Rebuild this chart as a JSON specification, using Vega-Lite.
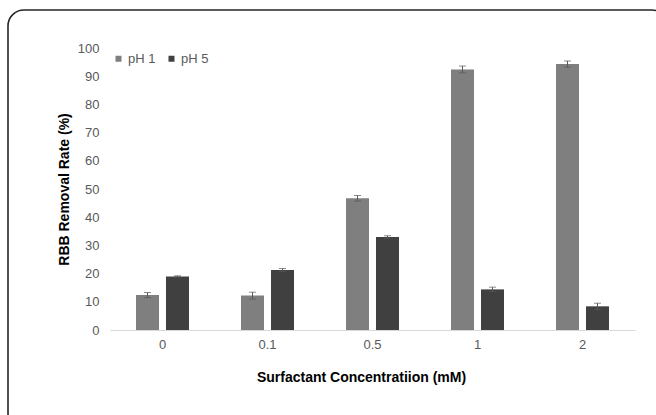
{
  "$schema": "https://vega.github.io/schema/vega-lite/v6.json",
  "autosize": "none",
  "padding": {"left": 8, "top": 10, "right": 0, "bottom": 0},
  "width": 660,
  "height": 420,
  "background": "white",
  "config": {
    "view": {"stroke": "#262626", "strokeWidth": 1.6, "cornerRadius": 16, "fill": "white"},
    "font": "Liberation Sans"
  },
  "data": {
    "values": [
      {"conc": "0", "series": "pH 1", "value": 12.4, "lo": 11.5, "hi": 13.3},
      {"conc": "0", "series": "pH 5", "value": 19.0, "lo": 18.8, "hi": 19.2},
      {"conc": "0.1", "series": "pH 1", "value": 12.2, "lo": 11.0, "hi": 13.4},
      {"conc": "0.1", "series": "pH 5", "value": 21.3, "lo": 20.8, "hi": 21.8},
      {"conc": "0.5", "series": "pH 1", "value": 46.7, "lo": 45.7, "hi": 47.7},
      {"conc": "0.5", "series": "pH 5", "value": 33.0, "lo": 32.6, "hi": 33.4},
      {"conc": "1", "series": "pH 1", "value": 92.4, "lo": 91.2, "hi": 93.6},
      {"conc": "1", "series": "pH 5", "value": 14.4, "lo": 13.6, "hi": 15.2},
      {"conc": "2", "series": "pH 1", "value": 94.3, "lo": 93.2, "hi": 95.4},
      {"conc": "2", "series": "pH 5", "value": 8.4, "lo": 7.3, "hi": 9.5}
    ]
  },
  "encoding": {
    "x": {
      "field": "conc", "type": "nominal", "sort": null,
      "scale": {"type": "band", "range": [102, 627], "paddingInner": 0, "paddingOuter": 0},
      "axis": {
        "title": "Surfactant Concentratiion (mM)",
        "orient": "bottom", "offset": -100,
        "labelAngle": 0, "ticks": false, "tickSize": 0,
        "domainColor": "#d9d9d9", "domainWidth": 1,
        "labelColor": "#595959", "labelFontSize": 13, "labelPadding": 8,
        "titleFontSize": 14, "titleFontWeight": "bold", "titleColor": "#000000",
        "titlePadding": 19, "titleX": 353
      }
    },
    "xOffset": {
      "field": "series", "type": "nominal",
      "scale": {"paddingInner": 0.2333, "paddingOuter": 0.8667}
    }
  },
  "layer": [
    {
      "mark": {"type": "bar"},
      "encoding": {
        "y": {
          "field": "value", "type": "quantitative",
          "scale": {"domain": [0, 100], "range": [320, 38], "nice": false, "zero": true},
          "axis": {
            "title": "RBB Removal Rate (%)",
            "orient": "left", "offset": -102,
            "values": [0, 10, 20, 30, 40, 50, 60, 70, 80, 90, 100],
            "domain": false, "ticks": false, "tickSize": 0, "grid": false,
            "labelColor": "#595959", "labelFontSize": 13, "labelPadding": 11,
            "titleFontSize": 14, "titleFontWeight": "bold", "titleColor": "#000000",
            "titlePadding": 6
          }
        },
        "color": {
          "field": "series", "type": "nominal",
          "scale": {"domain": ["pH 1", "pH 5"], "range": ["#7f7f7f", "#404040"]},
          "legend": {
            "title": null, "orient": "none", "direction": "horizontal",
            "legendX": 104, "legendY": 42, "padding": 0,
            "symbolType": "square", "symbolSize": 36, "symbolStrokeWidth": 0,
            "labelFontSize": 13, "labelColor": "#595959", "labelOffset": 3,
            "columnPadding": 9
          }
        }
      }
    },
    {
      "mark": {"type": "rule", "color": "#595959", "strokeWidth": 1},
      "encoding": {
        "y": {"field": "lo", "type": "quantitative"},
        "y2": {"field": "hi"}
      }
    },
    {
      "mark": {"type": "tick", "color": "#595959", "thickness": 1, "size": 7},
      "encoding": {"y": {"field": "lo", "type": "quantitative"}}
    },
    {
      "mark": {"type": "tick", "color": "#595959", "thickness": 1, "size": 7},
      "encoding": {"y": {"field": "hi", "type": "quantitative"}}
    }
  ]
}
